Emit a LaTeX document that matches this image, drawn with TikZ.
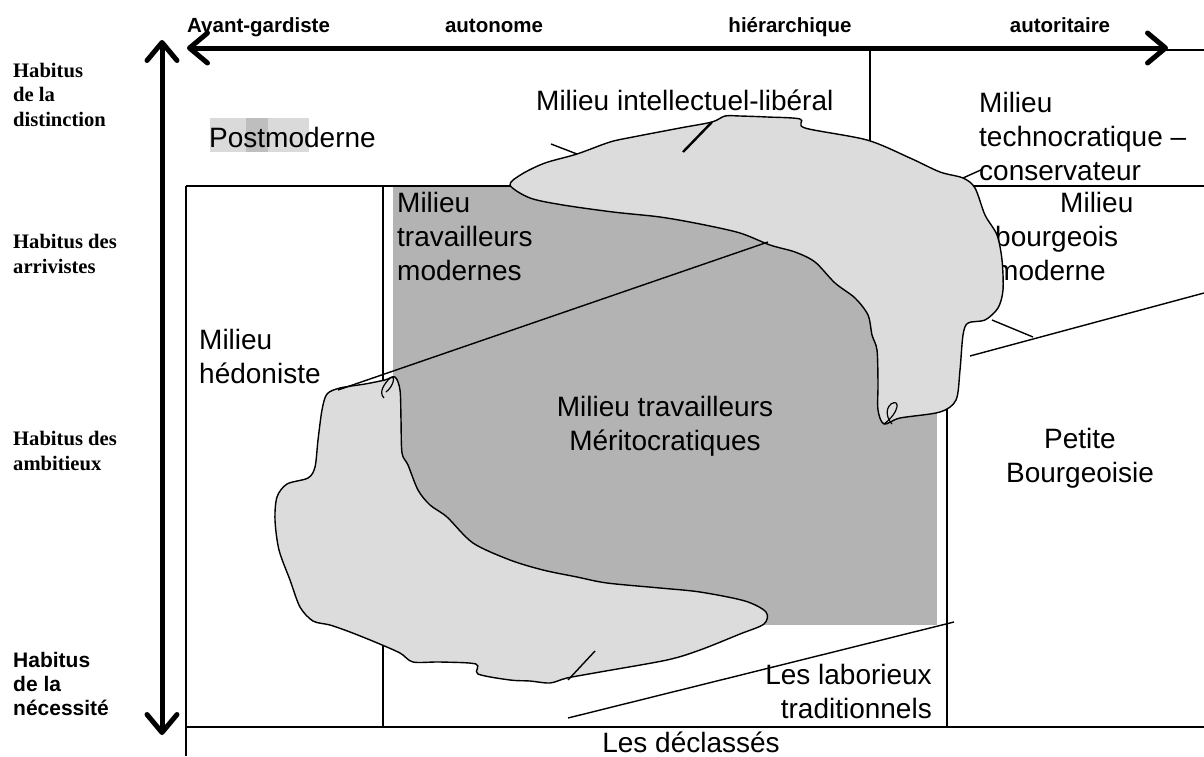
\documentclass[tikz,border=0pt]{standalone}
\usepackage{fontspec}
\setmainfont{Liberation Sans}
\newfontfamily\habserif{Liberation Serif}
\usepackage{tikz}
\usetikzlibrary{arrows.meta}
\definecolor{zonegray}{RGB}{179, 179, 179}
\definecolor{blobgray}{RGB}{220, 220, 220}
\definecolor{hlite}{RGB}{218, 218, 218}
\definecolor{hdark}{RGB}{190, 190, 190}

\begin{document}
\begin{tikzpicture}[
   x=1pt, y=-1pt,
   habaxis/.style={<->, >={Straight Barb[length=18pt, width=30pt, round]},
                   line width=5},
   boxline/.style={line width=1.6},
   leader/.style={line width=1.4},
   blobfill/.style={fill=blobgray, draw=black, line width=1.4},
   lbl/.style={inner sep=0, font=\fontsize{28}{34}\selectfont, align=left},
   toplbl/.style={inner sep=0, font=\fontsize{20.5}{24}\selectfont\bfseries},
   habs/.style={inner sep=0, font=\fontsize{20.6}{24.5}\selectfont\habserif\bfseries,
                align=left},
   habsans/.style={inner sep=0, font=\fontsize{21}{24}\selectfont\bfseries,
                   align=left}
  ]
  \useasboundingbox (0,0) rectangle (1204,756);

  % Zone of the travailleurs
  \fill[zonegray] (393,186) rectangle (937,625);

  % Frame of the milieus
  \coordinate (F1) at (186,186);   \coordinate (F2) at (186,756);
  \coordinate (F3) at (1204,186);  \coordinate (F4) at (383,186);
  \coordinate (F5) at (383,727);   \coordinate (F6) at (186,727);
  \coordinate (F7) at (1204,727);  \coordinate (F8) at (870,50);
  \coordinate (F9) at (870,150);   \coordinate (F10) at (947,400);
  \coordinate (F11) at (947,727);  \coordinate (F12) at (1204,50);
  \foreach \B/\E in {F1/F2, F1/F3, F4/F5, F6/F7, F8/F9, F10/F11, F8/F12} {
    \draw[boxline] (\B) -- (\E);
  }

  % Axes
  \coordinate (XL) at (187,48);  \coordinate (XR) at (1168,48);
  \coordinate (YT) at (162,40);  \coordinate (YB) at (162,735);
  \draw[habaxis] (XL) -- (XR);
  \draw[habaxis] (YT) -- (YB);

  \node (avant) [toplbl, anchor=base west] at (187,32) {Avant-gardiste};
  \node (auton) [toplbl, anchor=base] at (494,32) {autonome};
  \node (hier)  [toplbl, anchor=base] at (790,32) {hiérarchique};
  \node (autor) [toplbl, anchor=base] at (1060,32) {autoritaire};

  % (base of a node with several lines = its last line)
  \node (hdist) [habs, anchor=base west] at (13,126) {Habitus\\de la\\distinction};
  \node (harr)  [habs, anchor=base west] at (13,273) {Habitus des\\arrivistes};
  \node (hamb)  [habs, anchor=base west] at (13,470) {Habitus des\\ambitieux};
  \node (hnec)  [habsans, anchor=base west] at (13,715) {Habitus\\de la\\nécessité};

  % Milieus
  \fill[hlite] (210,118) rectangle (309,152);
  \fill[hdark] (246,118) rectangle (268,152);
  \node (post)   [lbl, anchor=base west] at (209,147) {Postmoderne};
  \node (intel)  [lbl, anchor=base west] at (536,110) {Milieu intellectuel-libéral};
  \node (techno) [lbl, anchor=base west] at (979,180) {Milieu\\technocratique –\\conservateur};
  \node (bourg)  [lbl, anchor=base west] at (995,280) {\hspace*{65pt}Milieu\\bourgeois\\moderne};
  \node (tramod) [lbl, anchor=base west] at (397,280) {Milieu\\travailleurs\\modernes};
  \node (hedo)   [lbl, anchor=base west] at (199,383) {Milieu\\hédoniste};
  \node (merito) [lbl, align=center, anchor=base] at (665,450) {Milieu travailleurs\\Méritocratiques};
  \node (petite) [lbl, align=center, anchor=base] at (1080,482) {Petite\\Bourgeoisie};
  \node (labo)   [lbl, align=right, anchor=base east] at (932,718) {Les laborieux\\traditionnels};
  \node (declas) [lbl, anchor=base] at (691,752) {Les déclassés};

  % Upper hook
  \draw[blobfill] plot[smooth cycle, tension=0.5] coordinates {
    (510,185) (522,174) (545,163) (577,154) (610,142) (633,137) (680,128)
    (712,122) (725,116) (740,116) (767,117) (800,119) (805,128) (867,140)
    (910,158) (940,172) (963,178) (975,188) (985,215) (997,235) (1002,260)
    (1003,290) (998,308) (985,320) (968,323) (963,335) (960,370) (956,400)
    (940,412) (900,418) (884,424) (878,410) (878,383) (877,350) (872,335)
    (868,315) (855,298) (835,283) (815,262) (795,252) (770,245) (740,233)
    (700,224) (660,217) (613,212) (563,205) (530,198)};
  \draw[line width=1.2] (884,424) .. controls (900,412) and (900,398) .. (891,404)
    .. controls (884,410) and (888,420) .. (892,424);

  % Lower hook
  \draw[blobfill] plot[smooth cycle, tension=0.5] coordinates {
    (340,388) (365,384) (385,380) (395,377) (400,390) (401,420) (402,453)
    (408,465) (418,490) (430,505) (447,517) (473,543) (510,560) (543,570)
    (577,577) (607,583) (660,588) (700,592) (745,601) (766,612) (764,624)
    (740,634) (700,650) (667,660) (600,672) (567,678) (550,683) (530,681)
    (510,680) (478,674) (476,664) (440,662) (413,662) (400,653) (375,642)
    (350,632) (330,625) (313,621) (300,607) (290,580) (279,550) (275,520)
    (277,497) (287,484) (308,478) (315,467) (318,440) (322,410) (327,394)};
  \draw[line width=1.2] (384,398) .. controls (378,392) and (385,383) .. (390,378)
    .. controls (396,374) and (394,386) .. (386,392);

  % Dividing lines
  \coordinate (D1) at (338,390);  \coordinate (D2) at (768,242);
  \coordinate (D3) at (970,356);  \coordinate (D4) at (1204,293);
  \coordinate (D5) at (992,320);  \coordinate (D6) at (1033,337);
  \coordinate (D7) at (568,718);  \coordinate (D8) at (954,622);
  \coordinate (D9) at (568,680);  \coordinate (D10) at (595,651);
  \coordinate (D11) at (551,144); \coordinate (D12) at (577,154);
  \coordinate (D13) at (963,178); \coordinate (D14) at (983,169);
  \foreach \B/\E in {D1/D2, D3/D4, D5/D6, D7/D8, D9/D10, D11/D12, D13/D14} {
    \draw[leader] (\B) -- (\E);
  }
  \coordinate (D15) at (683,152); \coordinate (D16) at (712,122);
  \draw[line width=2.4] (D15) -- (D16);

\end{tikzpicture}
\end{document}
